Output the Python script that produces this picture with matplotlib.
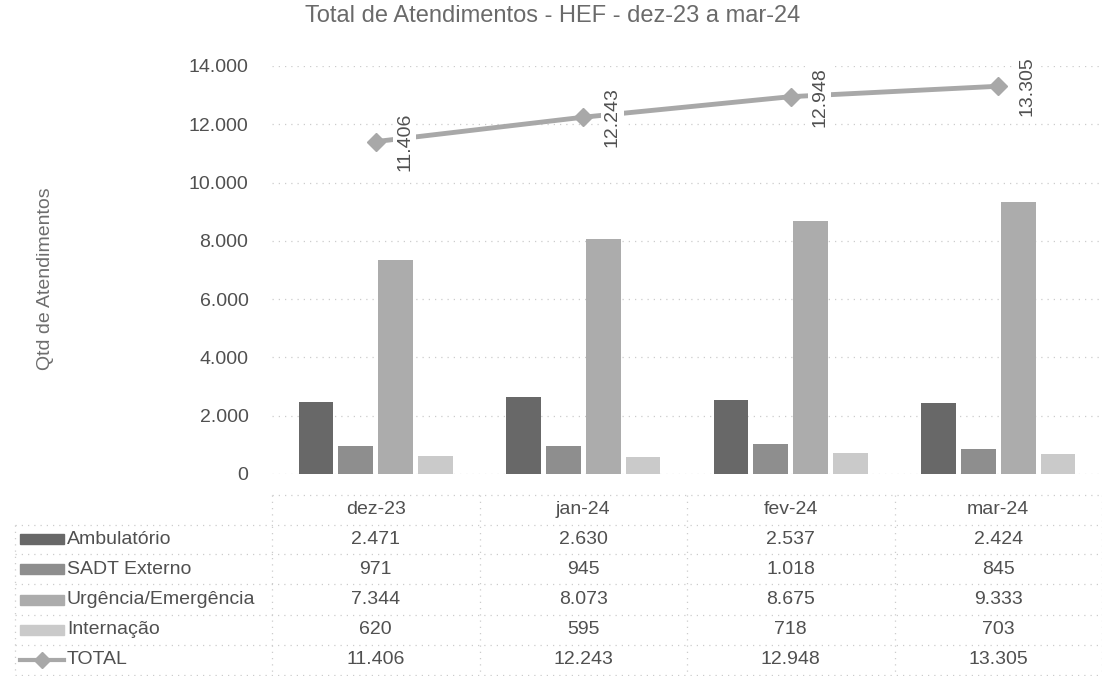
import matplotlib
matplotlib.use("Agg")
import matplotlib.pyplot as plt
import matplotlib.transforms as mtransforms
from matplotlib.patches import Rectangle
from matplotlib.lines import Line2D
import numpy as np

# --- data
months = ["dez-23", "jan-24", "fev-24", "mar-24"]
ambulatorio = [2471, 2630, 2537, 2424]
sadt_externo = [971, 945, 1018, 845]
urgencia = [7344, 8073, 8675, 9333]
internacao = [620, 595, 718, 703]
total = [11406, 12243, 12948, 13305]
y_ticks = [0, 2000, 4000, 6000, 8000, 10000, 12000, 14000]

series_names = ["Ambulatório", "SADT Externo", "Urgência/Emergência", "Internação"]
series_values = [ambulatorio, sadt_externo, urgencia, internacao]
series_colors = ["#686868", "#8e8e8e", "#acacac", "#cacaca"]
total_color = "#a8a8a8"
text_color = "#505050"
grid_color = "#cccccc"

W, H = 1102, 676
FS = 14
plt.rcParams["font.family"] = ["Liberation Sans", "DejaVu Sans"]


def fmt(v):
    return f"{v:,}".replace(",", ".")


fig = plt.figure(figsize=(W / 100, H / 100), dpi=100)
ax = fig.add_axes([272 / W, 1 - 474 / H, 830 / W, 408 / H])

x = np.arange(len(months))
width, pitch = 0.168, 0.192
for i, (vals, col) in enumerate(zip(series_values, series_colors)):
    ax.bar(x + (i - 1.5) * pitch, vals, width, color=col, zorder=2)

ax.plot(x, total, color=total_color, lw=3.5, marker="D", ms=9, zorder=3)
for xi, v in zip(x, total):
    ax.annotate(fmt(v), (xi, v), xytext=(29, 0), textcoords="offset pixels",
                rotation=90, ha="center", va="center", fontsize=FS,
                color=text_color, zorder=4,
                bbox=dict(boxstyle="square,pad=0.15", fc="white", ec="none"))

ax.set_xlim(-0.5, len(months) - 0.5)
ax.set_ylim(y_ticks[0], y_ticks[-1])
ax.set_yticks(y_ticks)
ax.set_yticklabels([fmt(t) for t in y_ticks])
ax.set_xticks([])
ax.tick_params(axis="y", length=0, pad=17, labelsize=FS, labelcolor=text_color)
ax.grid(axis="y", color=grid_color, ls=(0, (1, 4)), lw=0.9, zorder=0)
for s in ax.spines.values():
    s.set_visible(False)

fig.text(553 / W, 1 - 16 / H, "Total de Atendimentos - HEF - dez-23 a mar-24",
         ha="center", va="center", fontsize=17, color="#6a6a6a")
fig.text(46 / W, 1 - 279 / H, "Qtd de Atendimentos", rotation=90,
         ha="center", va="center", fontsize=14, color="#6e6e6e")

# --- data table under the plot
blend = mtransforms.blended_transform_factory(ax.transData, fig.transFigure)
row_y = [510, 539, 569, 600, 630, 660]
row_edges = [495, 525, 554, 584, 615, 645, 675]

for xi, m in zip(x, months):
    fig.text(xi, 1 - row_y[0] / H, m, transform=blend, ha="center", va="center",
             fontsize=FS, color=text_color)

rows = series_values + [total]
names = series_names + ["TOTAL"]
for r, (name, vals) in enumerate(zip(names, rows)):
    yc = 1 - row_y[r + 1] / H
    fig.text(67 / W, yc, name, ha="left", va="center", fontsize=FS, color=text_color)
    for xi, v in zip(x, vals):
        fig.text(xi, yc, fmt(v), transform=blend, ha="center", va="center",
                 fontsize=FS, color=text_color)
    if r < len(series_colors):
        fig.add_artist(Rectangle((20 / W, yc - 5 / H), 44 / W, 10 / H,
                                 color=series_colors[r], transform=fig.transFigure))
    else:
        fig.add_artist(Line2D([20 / W, 64 / W], [yc, yc], color=total_color, lw=3,
                              transform=fig.transFigure))
        fig.add_artist(Line2D([42 / W], [yc], color=total_color, marker="D", ms=8,
                              transform=fig.transFigure))

line_kw = dict(color=grid_color, ls=(0, (1, 4)), lw=0.9)
for k, ye in enumerate(row_edges):
    x0 = 272 / W if k == 0 else 15 / W
    fig.add_artist(Line2D([x0, 1], [1 - ye / H] * 2, transform=fig.transFigure, **line_kw))
fig.add_artist(Line2D([15 / W] * 2, [1 - row_edges[1] / H, 1 - row_edges[-1] / H],
                      transform=fig.transFigure, **line_kw))
for xb in np.arange(len(months) + 1) - 0.5:
    fig.add_artist(Line2D([xb, xb], [1 - row_edges[0] / H, 1 - row_edges[-1] / H],
                          transform=blend, **line_kw))

fig.savefig("out.png", dpi=100)
